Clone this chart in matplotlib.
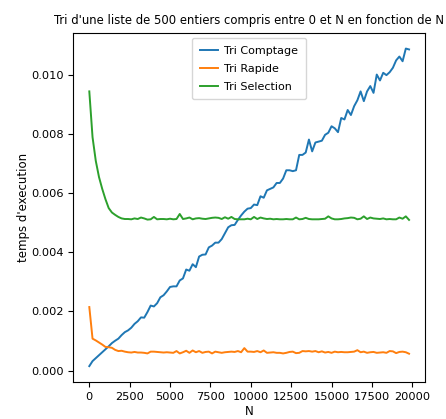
import matplotlib
matplotlib.use("Agg")
import matplotlib.pyplot as plt
from matplotlib import font_manager

# Chercher une police etroite si disponible
police = 'Liberation Sans'
for f in font_manager.fontManager.ttflist:
    if 'Narrow' in f.name or 'Condensed' in f.name or f.stretch in ('condensed', 'semi-condensed'):
        police = f.name
        break
plt.rcParams['font.family'] = [police, 'DejaVu Sans']

# N values (pas de 200)
n_values = list(range(0, 20000, 200))

# temps d'execution (en millisecondes, converti en secondes plus bas)
tri_comptage = [
    0.15, 0.32, 0.42, 0.52, 0.62, 0.72, 0.82, 0.93, 1.01, 1.08,
    1.20, 1.30, 1.36, 1.45, 1.58, 1.67, 1.80, 1.79, 1.98, 2.20,
    2.17, 2.28, 2.48, 2.55, 2.68, 2.83, 2.85, 2.85, 3.05, 3.12,
    3.42, 3.38, 3.60, 3.50, 3.86, 3.92, 3.93, 4.17, 4.23, 4.33,
    4.33, 4.45, 4.65, 4.85, 4.92, 4.93, 5.10, 5.25, 5.38, 5.48,
    5.50, 5.62, 5.60, 5.90, 5.85, 6.10, 6.15, 6.20, 6.35, 6.35,
    6.50, 6.78, 6.78, 6.75, 6.78, 7.30, 7.30, 7.38, 7.82, 7.42,
    7.72, 7.75, 7.78, 7.98, 8.05, 8.27, 8.20, 8.07, 8.55, 8.50,
    8.82, 8.65, 8.95, 9.15, 9.45, 9.12, 9.45, 9.63, 9.40, 10.02,
    9.82, 10.08, 10.00, 10.10, 10.25, 10.50, 10.63, 10.47, 10.90, 10.87,
]
tri_rapide = [
    2.15, 1.08, 1.02, 0.95, 0.88, 0.80, 0.79, 0.77, 0.70, 0.66,
    0.67, 0.64, 0.62, 0.61, 0.63, 0.61, 0.61, 0.60, 0.58, 0.64,
    0.64, 0.63, 0.62, 0.61, 0.62, 0.61, 0.60, 0.66, 0.58, 0.62,
    0.67, 0.60, 0.68, 0.62, 0.66, 0.60, 0.63, 0.64, 0.58, 0.64,
    0.62, 0.60, 0.62, 0.63, 0.64, 0.63, 0.66, 0.62, 0.76, 0.64,
    0.64, 0.63, 0.66, 0.62, 0.68, 0.60, 0.61, 0.62, 0.60, 0.60,
    0.58, 0.60, 0.63, 0.64, 0.59, 0.60, 0.66, 0.65, 0.66, 0.64,
    0.66, 0.62, 0.65, 0.61, 0.63, 0.60, 0.64, 0.62, 0.63, 0.62,
    0.62, 0.63, 0.64, 0.69, 0.62, 0.64, 0.60, 0.62, 0.63, 0.60,
    0.61, 0.62, 0.60, 0.66, 0.65, 0.59, 0.63, 0.64, 0.62, 0.57,
]
tri_selection = [
    9.45, 7.90, 7.10, 6.55, 6.15, 5.80, 5.50, 5.35, 5.27, 5.20,
    5.15, 5.13, 5.13, 5.12, 5.15, 5.13, 5.18, 5.15, 5.11, 5.12,
    5.20, 5.12, 5.13, 5.13, 5.12, 5.14, 5.12, 5.13, 5.30, 5.13,
    5.15, 5.18, 5.12, 5.15, 5.16, 5.14, 5.13, 5.15, 5.17, 5.18,
    5.17, 5.13, 5.19, 5.14, 5.20, 5.13, 5.12, 5.12, 5.12, 5.14,
    5.12, 5.20, 5.13, 5.18, 5.15, 5.13, 5.14, 5.12, 5.13, 5.12,
    5.12, 5.13, 5.12, 5.12, 5.18, 5.12, 5.13, 5.17, 5.13, 5.12,
    5.12, 5.12, 5.13, 5.14, 5.22, 5.15, 5.12, 5.12, 5.13, 5.15,
    5.16, 5.18, 5.17, 5.12, 5.14, 5.22, 5.13, 5.18, 5.15, 5.14,
    5.13, 5.15, 5.12, 5.13, 5.12, 5.12, 5.18, 5.14, 5.22, 5.10,
]

labels = ['Tri Comptage', 'Tri Rapide', 'Tri Selection']

fig = plt.figure(figsize=(4.46, 4.19), dpi=100)
ax = fig.add_axes([0.1644, 0.0883, 0.7886, 0.8337])

for serie, label in zip([tri_comptage, tri_rapide, tri_selection], labels):
    ax.plot(n_values, [v / 1000 for v in serie], label=label, linewidth=1.4)

ax.set_title("Tri d'une liste de 500 entiers compris entre 0 et N en fonction de N", fontsize=8.4)
ax.set_xlabel('N', fontsize=8.5, labelpad=2)
ax.set_ylabel("temps d'execution", fontsize=8.5)
ax.yaxis.set_label_coords(-0.123, 0.5)
ax.tick_params(labelsize=8.2)
ax.set_xticks(range(0, 20001, 2500))
ax.legend(loc='upper center', fontsize=8, handlelength=1.6, handletextpad=0.6,
          labelspacing=0.7, borderpad=0.7)

fig.savefig('out.png', dpi=100)
